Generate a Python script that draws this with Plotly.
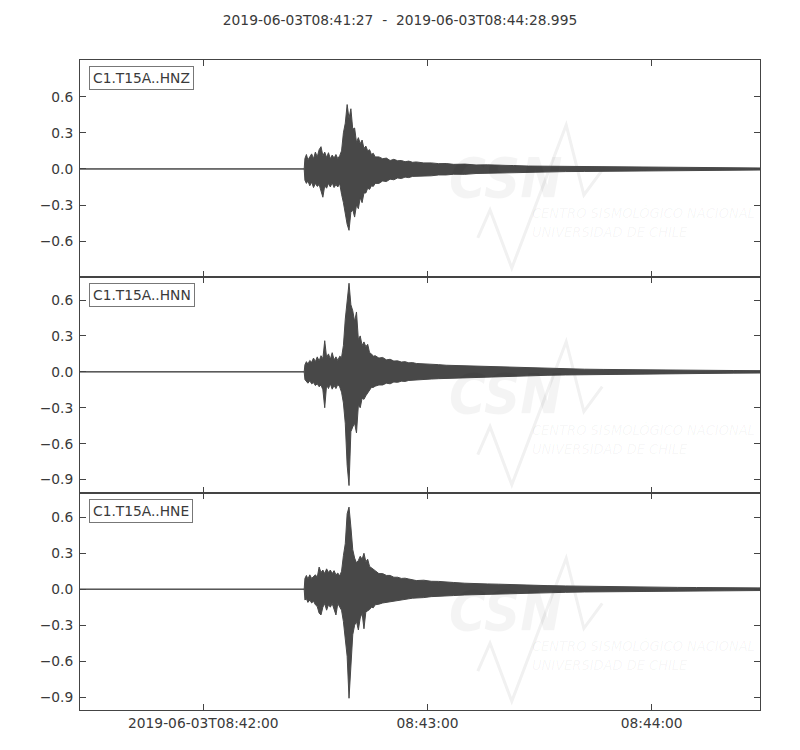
import pandas as pd
import plotly.graph_objects as go
from plotly.subplots import make_subplots

# trace window (ObsPy style 3-component strong motion record)
trace_start = pd.Timestamp("2019-06-03 08:41:27")
trace_end = pd.Timestamp("2019-06-03 08:44:28.995")
title_text = "2019-06-03T08:41:27\u00a0\u00a0-\u00a0\u00a02019-06-03T08:44:28.995"

channels = ["C1.T15A..HNZ", "C1.T15A..HNN", "C1.T15A..HNE"]

t_sec = [0, 60.0, 60.2, 60.6, 61.0, 61.5, 62.0, 62.5, 63.0, 63.5, 64.0, 64.5, 65.0,
         65.5, 66.0, 66.5, 67.0, 67.5, 68.0, 68.5, 69.0, 69.5, 70.0, 70.5, 71.0,
         71.5, 72.0, 72.5, 73.0, 73.5, 74.0, 74.5, 75.0, 75.5, 76.0,
         76.5, 77.0, 77.5, 78.0, 78.5, 79.0,
         80.0, 81.0, 82.0, 83.0, 84.0, 85.0, 86.0, 87.0, 88.0, 89.0, 90.0,
         92.0, 94.0, 96.0, 98.0, 100.0, 103.0, 106.0, 109.0, 112.0, 116.0, 120.0,
         125.0, 130.0, 135.0, 140.0, 145.0, 150.0, 155.0, 160.0, 165.0, 170.0, 175.0,
         181.995]

# upper / lower envelope of each channel
hnz_upper = [0, 0, 0.087, 0.12, 0.075, 0.10, 0.125, 0.085, 0.14, 0.10, 0.16, 0.185, 0.11,
             0.14, 0.095, 0.135, 0.085, 0.115, 0.09, 0.12, 0.085, 0.11, 0.15, 0.30, 0.38,
             0.535, 0.42, 0.50, 0.33, 0.34, 0.22, 0.26, 0.21, 0.24, 0.17,
             0.19, 0.15, 0.16, 0.12, 0.13, 0.10,
             0.10, 0.085, 0.09, 0.07, 0.08, 0.068, 0.07, 0.06, 0.065, 0.055, 0.058,
             0.05, 0.05, 0.044, 0.045, 0.038, 0.04, 0.033, 0.034, 0.029, 0.028, 0.024,
             0.023, 0.02, 0.019, 0.016, 0.015, 0.013, 0.012, 0.011, 0.01, 0.009, 0.009,
             0.008]
hnz_lower = [0, 0, -0.095, -0.12, -0.10, -0.14, -0.11, -0.155, -0.12, -0.145, -0.13, -0.18, -0.235,
             -0.14, -0.16, -0.12, -0.15, -0.115, -0.155, -0.13, -0.15, -0.12, -0.21, -0.28, -0.35,
             -0.46, -0.51, -0.36, -0.34, -0.40, -0.30, -0.33, -0.24, -0.28, -0.20,
             -0.20, -0.16, -0.17, -0.14, -0.145, -0.12,
             -0.12, -0.10, -0.105, -0.085, -0.09, -0.075, -0.08, -0.068, -0.072, -0.062, -0.065,
             -0.058, -0.057, -0.05, -0.05, -0.044, -0.045, -0.038, -0.038, -0.033, -0.031, -0.027,
             -0.025, -0.022, -0.021, -0.018, -0.017, -0.015, -0.014, -0.012, -0.011, -0.01, -0.01,
             -0.009]

hnn_upper = [0, 0, 0.06, 0.085, 0.065, 0.095, 0.08, 0.115, 0.085, 0.125, 0.09, 0.135, 0.11,
             0.26, 0.12, 0.15, 0.105, 0.16, 0.10, 0.125, 0.095, 0.13, 0.12, 0.22, 0.44,
             0.60, 0.74, 0.56, 0.51, 0.42, 0.50, 0.27, 0.30, 0.22, 0.25,
             0.21, 0.23, 0.16, 0.15, 0.13, 0.135,
             0.115, 0.12, 0.10, 0.105, 0.09, 0.092, 0.082, 0.085, 0.075, 0.077, 0.07,
             0.068, 0.062, 0.06, 0.055, 0.053, 0.048, 0.046, 0.042, 0.04, 0.035, 0.032,
             0.028, 0.025, 0.022, 0.02, 0.018, 0.016, 0.015, 0.014, 0.013, 0.012, 0.011,
             0.01]
hnn_lower = [0, 0, -0.065, -0.08, -0.095, -0.075, -0.10, -0.09, -0.115, -0.10, -0.125, -0.11, -0.15,
             -0.30, -0.11, -0.14, -0.10, -0.145, -0.115, -0.14, -0.105, -0.125, -0.17, -0.26, -0.43,
             -0.78, -0.95, -0.50, -0.46, -0.43, -0.51, -0.28, -0.30, -0.22, -0.23,
             -0.20, -0.17, -0.15, -0.13, -0.13, -0.12,
             -0.11, -0.11, -0.095, -0.10, -0.085, -0.088, -0.078, -0.08, -0.072, -0.073, -0.066,
             -0.064, -0.06, -0.057, -0.053, -0.05, -0.047, -0.045, -0.041, -0.039, -0.035, -0.033,
             -0.029, -0.026, -0.023, -0.021, -0.019, -0.017, -0.016, -0.014, -0.013, -0.012, -0.011,
             -0.01]

hne_upper = [0, 0, 0.09, 0.115, 0.085, 0.12, 0.09, 0.11, 0.12, 0.10, 0.185, 0.14, 0.16,
             0.13, 0.17, 0.14, 0.16, 0.13, 0.155, 0.12, 0.135, 0.11, 0.15, 0.28, 0.38,
             0.63, 0.685, 0.52, 0.33, 0.26, 0.22, 0.24, 0.275, 0.25, 0.30,
             0.23, 0.25, 0.19, 0.18, 0.17, 0.155,
             0.13, 0.13, 0.115, 0.115, 0.10, 0.10, 0.09, 0.092, 0.085, 0.08, 0.072,
             0.075, 0.066, 0.065, 0.058, 0.056, 0.05, 0.05, 0.044, 0.042, 0.037, 0.034,
             0.03, 0.027, 0.024, 0.022, 0.019, 0.018, 0.016, 0.015, 0.014, 0.013, 0.012,
             0.011]
hne_lower = [0, 0, -0.09, -0.08, -0.11, -0.09, -0.115, -0.10, -0.13, -0.145, -0.20, -0.215, -0.15,
             -0.12, -0.175, -0.13, -0.15, -0.12, -0.165, -0.215, -0.12, -0.14, -0.175, -0.27, -0.40,
             -0.56, -0.91, -0.70, -0.38, -0.30, -0.27, -0.34, -0.24, -0.20, -0.33,
             -0.19, -0.18, -0.17, -0.15, -0.155, -0.13,
             -0.125, -0.115, -0.11, -0.10, -0.095, -0.09, -0.088, -0.085, -0.08, -0.075, -0.07,
             -0.07, -0.062, -0.06, -0.055, -0.053, -0.048, -0.046, -0.042, -0.04, -0.036, -0.033,
             -0.029, -0.026, -0.023, -0.021, -0.019, -0.017, -0.016, -0.015, -0.013, -0.013, -0.012,
             -0.011]

# axis setup
y_ranges = [[-0.895, 0.905], [-1.015, 0.795], [-1.008, 0.80]]
y_tickvals = [-0.9, -0.6, -0.3, 0.0, 0.3, 0.6]
x_tickvals = ["2019-06-03 08:42:00", "2019-06-03 08:43:00", "2019-06-03 08:44:00"]
x_ticktext = ["2019-06-03T08:42:00", "08:43:00", "08:44:00"]

envelopes = [(hnz_upper, hnz_lower), (hnn_upper, hnn_lower), (hne_upper, hne_lower)]

wave_color = "#484848"
axis_color = "#444444"
text_color = "#3a3a3a"
font_family = "DejaVu Sans, sans-serif"
font_size = 13.8

times = list(trace_start + pd.to_timedelta(t_sec, unit="s"))

fig = make_subplots(rows=3, cols=1, shared_xaxes=True, vertical_spacing=0)

for i, (upper, lower) in enumerate(envelopes):
    # envelope polygon: upper edge forward, lower edge backward
    fig.add_trace(
        go.Scatter(
            x=times + times[::-1],
            y=upper + lower[::-1],
            mode="lines",
            fill="toself",
            fillcolor=wave_color,
            line=dict(color=wave_color, width=1),
            hoverinfo="skip",
            showlegend=False,
        ),
        row=i + 1, col=1,
    )

# faint CSN watermark in every panel
wm_color = "rgba(0,0,0,0.045)"
wm_font = "DejaVu Sans Condensed, DejaVu Sans, sans-serif"
for i in range(3):
    suffix = "" if i == 0 else str(i + 1)
    xref = f"x{suffix} domain"
    yref = f"y{suffix} domain"
    fig.add_shape(
        type="path",
        path="M 0.585 0.179 L 0.603 0.308 L 0.635 0.040 L 0.715 0.700 L 0.741 0.377 L 0.768 0.492",
        xref=xref, yref=yref, layer="below",
        line=dict(color="#f1f1f1", width=3),
    )
    fig.add_annotation(
        text="<b><i>CSN</i></b>", x=0.625, y=0.46, xref=xref, yref=yref,
        showarrow=False, font=dict(family=wm_font, size=56, color=wm_color),
    )
    fig.add_annotation(
        text="<i>CENTRO SISMOLÓGICO NACIONAL</i>", x=0.662, y=0.248, xref=xref, yref=yref,
        xanchor="left", showarrow=False, font=dict(family=wm_font, size=14.5, color=wm_color),
    )
    fig.add_annotation(
        text="<i>UNIVERSIDAD DE CHILE</i>", x=0.662, y=0.160, xref=xref, yref=yref,
        xanchor="left", showarrow=False, font=dict(family=wm_font, size=14.5, color=wm_color),
    )
    # channel label box
    fig.add_annotation(
        text=channels[i], x=0.013, y=0.972, xref=xref, yref=yref,
        xanchor="left", yanchor="top", showarrow=False,
        font=dict(family=font_family, size=font_size, color=text_color),
        bgcolor="white", bordercolor="#777777", borderwidth=1, borderpad=3,
    )

fig.update_xaxes(
    type="date",
    range=[trace_start, trace_end],
    tickvals=x_tickvals,
    ticktext=x_ticktext,
    ticks="inside", ticklen=6, tickwidth=1, tickcolor=axis_color,
    showline=True, linecolor=axis_color, linewidth=1, mirror="ticks",
    showgrid=False, zeroline=False,
    tickfont=dict(family=font_family, size=font_size, color=text_color),
)
fig.update_xaxes(showticklabels=False, row=1, col=1)
fig.update_xaxes(showticklabels=False, row=2, col=1)

for i in range(3):
    fig.update_yaxes(
        range=y_ranges[i],
        tickvals=y_tickvals,
        tickformat=".1f",
        ticks="inside", ticklen=6, tickwidth=1, tickcolor=axis_color,
        showline=True, linecolor=axis_color, linewidth=1, mirror="ticks",
        showgrid=False, zeroline=False, ticklabelstandoff=3,
        tickfont=dict(family=font_family, size=font_size, color=text_color),
        row=i + 1, col=1,
    )

# page is drawn with an 8px body margin, so the figure is 8px smaller each way
fig.update_layout(
    width=792, height=742,
    margin=dict(l=72, r=40, t=52, b=40),
    paper_bgcolor="white", plot_bgcolor="white",
    title=dict(text=title_text, x=(400 - 8) / 792, xanchor="center", y=1 - 12 / 742,
               yanchor="middle",
               font=dict(family=font_family, size=font_size, color=text_color)),
    showlegend=False,
)

fig.write_html("out.html")
